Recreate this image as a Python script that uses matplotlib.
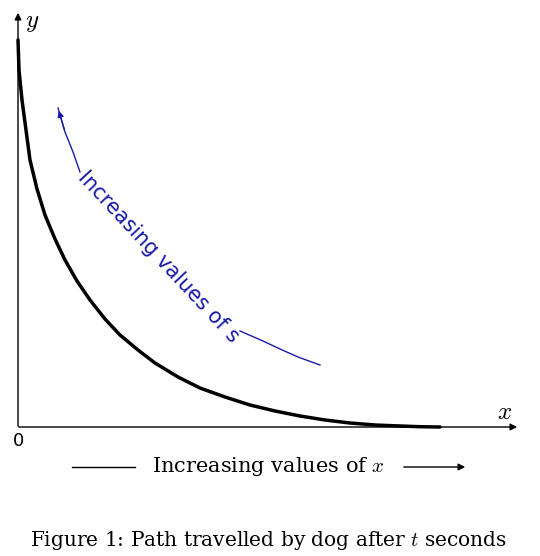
import matplotlib
matplotlib.use("Agg")
import matplotlib.pyplot as plt
import numpy as np

plt.rcParams['mathtext.fontset'] = 'cm'

# path (x, y)
path_x = [0, 1, 4, 8, 12, 19, 27, 37, 47, 59, 72, 87, 102, 120, 137, 160, 182, 207, 232, 257, 282, 307, 332, 357, 382, 402, 422]
path_y = [387, 357, 327, 297, 267, 238, 212, 188, 167, 146, 127, 108, 92, 77, 64, 50, 39, 30, 22, 16, 11, 7, 4, 2, 1, 0.3, 0]

# blue guide curve
blue_x = [302, 280, 262, 245, 222]
blue_y = [62, 70, 78, 86, 96]
blue_arrow_x = [62, 55, 47, 40]
blue_arrow_y = [255, 275, 295, 319]

fig = plt.figure(figsize=(5.4, 5.56), dpi=100)
ax = fig.add_axes([0, 0, 1, 1])
ax.set_xlim(-18, 522)
ax.set_ylim(-129, 427)
ax.axis('off')

ax.annotate('', xy=(502, 0), xytext=(-2, 0),
            arrowprops=dict(arrowstyle='-|>', color='black', lw=1, mutation_scale=10))
ax.annotate('', xy=(0, 417), xytext=(0, -2),
            arrowprops=dict(arrowstyle='-|>', color='black', lw=1, mutation_scale=10))

ax.plot(path_x, path_y, color='black', lw=2.5, solid_capstyle='round')

ax.plot(blue_x, blue_y, color='#1a1aaa', lw=1)
ax.plot(blue_arrow_x, blue_arrow_y, color='#1a1aaa', lw=1)
ax.annotate('', xy=(blue_arrow_x[-1], blue_arrow_y[-1]), xytext=(blue_arrow_x[-2], blue_arrow_y[-2]),
            arrowprops=dict(arrowstyle='-|>', color='#1a1aaa', lw=1, mutation_scale=9))
ax.text(140, 170, 'Increasing values of s', rotation=-47, color='#1a1aaa',
        fontsize=15, family='DejaVu Sans', ha='center', va='center')

ax.text(487, 15, '$x$', fontsize=18, ha='center', va='center')
ax.text(14, 405, '$y$', fontsize=18, ha='center', va='center')
ax.text(0, -14, '0', fontsize=13, ha='center', va='center', family='DejaVu Sans')

ax.plot([54, 117], [-40, -40], color='black', lw=1)
ax.text(250, -40, 'Increasing values of $x$', fontsize=15, ha='center', va='center',
        family='DejaVu Serif')
ax.annotate('', xy=(450, -40), xytext=(383, -40),
            arrowprops=dict(arrowstyle='-|>', color='black', lw=1, mutation_scale=10))

ax.text(250, -114, 'Figure 1: Path travelled by dog after $t$ seconds', fontsize=14.5,
        ha='center', va='center', family='DejaVu Serif')

fig.savefig('out.png', dpi=100)
